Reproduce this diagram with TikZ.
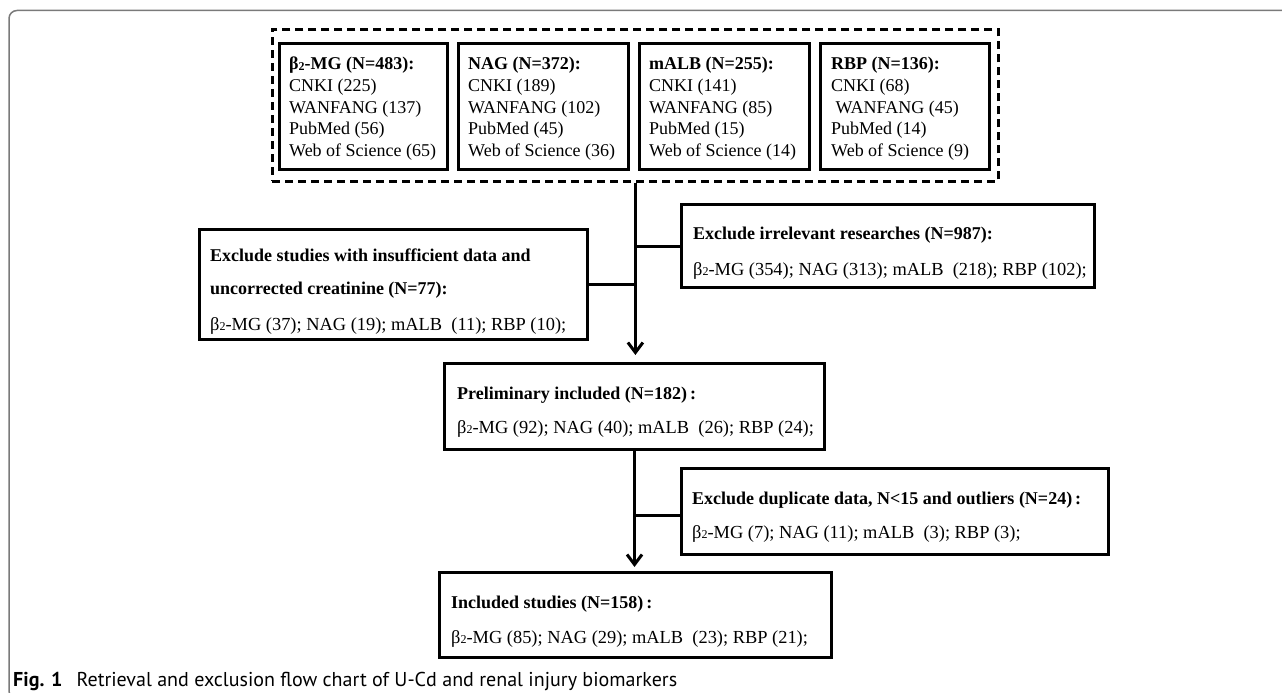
\documentclass[tikz,border=0pt]{standalone}
\usepackage{fontspec}
\setmainfont{Liberation Serif}
\newfontfamily\capfont{PT Sans}
\usetikzlibrary{arrows.meta}
\definecolor{framegray}{HTML}{7A7A7A}
\newcommand{\btwo}{β\raisebox{-0.5pt}{\fontsize{12}{12}\selectfont 2}}
\begin{document}
\begin{tikzpicture}[x=1pt,y=-1pt,
  box/.style={draw=black, line width=3pt, inner sep=0pt, anchor=north west},
  dbox/.style={draw=black, line width=2.8pt, dash pattern=on 8pt off 5pt, inner sep=0pt, anchor=north west},
  txt/.style={anchor=base west, inner sep=0pt, font=\fontsize{18}{18}\selectfont},
  rtxt/.style={anchor=base west, inner sep=0pt, font=\fontsize{18.4}{18}\selectfont},
  conn/.style={line width=3pt},
  arr/.style={line width=3pt, -{Straight Barb[length=10pt, width=15pt]}},
]
\useasboundingbox (0,0) rectangle (1282,693);
\begin{scope}
\clip (0,0) rectangle (1282,693);
\draw[framegray, line width=1.5pt, rounded corners=8pt] (1300,699) -- (9,699) -- (9,10.5) -- (1300,10.5);
\end{scope}

% dashed group
\node[dbox, minimum width=726pt, minimum height=152pt] (db) at (271,28) {};
% top boxes
\node[box, minimum width=168pt, minimum height=126pt] (b1) at (278,42) {};
\node[box, minimum width=170pt, minimum height=126pt] (b2) at (457,42) {};
\node[box, minimum width=170pt, minimum height=126pt] (b3) at (638,42) {};
\node[box, minimum width=169pt, minimum height=126pt] (b4) at (819,42) {};

\node[txt] (b1a) at (289,70) {\textbf{\btwo-MG (N=483):}};
\node[txt] (b1b) at (289,91.5) {CNKI (225)};
\node[txt] (b1c) at (289,113) {WANFANG (137)};
\node[txt] (b1d) at (289,134.5) {PubMed (56)};
\node[txt] (b1e) at (289,156) {Web of Science (65)};

\node[txt] (b2a) at (468,70) {\textbf{NAG (N=372):}};
\node[txt] (b2b) at (468,91.5) {CNKI (189)};
\node[txt] (b2c) at (468,113) {WANFANG (102)};
\node[txt] (b2d) at (468,134.5) {PubMed (45)};
\node[txt] (b2e) at (468,156) {Web of Science (36)};

\node[txt] (b3a) at (649,70) {\textbf{mALB (N=255):}};
\node[txt] (b3b) at (649,91.5) {CNKI (141)};
\node[txt] (b3c) at (649,113) {WANFANG (85)};
\node[txt] (b3d) at (649,134.5) {PubMed (15)};
\node[txt] (b3e) at (649,156) {Web of Science (14)};

\node[txt] (b4a) at (831,70) {\textbf{RBP (N=136):}};
\node[txt] (b4b) at (831,91.5) {CNKI (68)};
\node[txt] (b4c) at (835.5,113) {WANFANG (45)};
\node[txt] (b4d) at (831,134.5) {PubMed (14)};
\node[txt] (b4e) at (831,156) {Web of Science (9)};

% exclusion irrelevant
\node[box, minimum width=413pt, minimum height=83pt] (r1) at (680,203) {};
\node[txt] (r1a) at (693,239) {\textbf{Exclude irrelevant researches (N=987):}};
\node[rtxt] (r1b) at (693,275) {\btwo-MG (354); NAG (313); mALB~~(218); RBP (102);};

% exclusion insufficient
\node[box, minimum width=388pt, minimum height=110pt] (l1) at (198,228) {};
\node[txt] (l1a) at (210,261) {\textbf{Exclude studies with insufficient data and}};
\node[txt] (l1b) at (210,294) {\textbf{uncorrected creatinine (N=77):}};
\node[rtxt] (l1c) at (210,330) {\btwo-MG (37); NAG (19); mALB~~(11); RBP (10);};

% preliminary
\node[box, minimum width=380pt, minimum height=86pt] (p) at (443,362) {};
\node[txt] (pa) at (457,399) {\textbf{Preliminary included (N=182)\,:}};
\node[rtxt] (pb) at (457,433) {\btwo-MG (92); NAG (40); mALB~~(26); RBP (24);};

% duplicate
\node[box, minimum width=427pt, minimum height=86pt] (d) at (680,467) {};
\node[txt] (da) at (692,504) {\textbf{Exclude duplicate data, N<15 and outliers (N=24)\,:}};
\node[rtxt] (dbb) at (692,538) {\btwo-MG (7); NAG (11); mALB~~(3); RBP (3);};

% included
\node[box, minimum width=392pt, minimum height=85pt] (i) at (438,571) {};
\node[txt] (ia) at (451,608) {\textbf{Included studies (N=158)\,:}};
\node[rtxt] (ib) at (451,643) {\btwo-MG (85); NAG (29); mALB~~(23); RBP (21);};

% connectors
\draw[arr, shorten >=7pt] (db.south) -- (db.south |- p.north);
\coordinate (j1) at (db.south |- r1.west);
\draw[conn] (j1) -- (r1.west);
\coordinate (j2) at (db.south |- l1.east);
\draw[conn] (l1.east) -- (j2);
\draw[arr, shorten >=4pt] (p.south) -- (p.south |- i.north);
\coordinate (j3) at ([yshift=-4pt]p.south |- d.west);
\draw[conn] (j3) -- (j3 -| d.west);

% caption
\node[anchor=base west, inner sep=0pt] (cap) at (13,686) {\resizebox{664pt}{!}{\capfont\textbf{Fig. 1}\hspace{0.7em}Retrieval and exclusion flow chart of U-Cd and renal injury biomarkers}};
\end{tikzpicture}
\end{document}
